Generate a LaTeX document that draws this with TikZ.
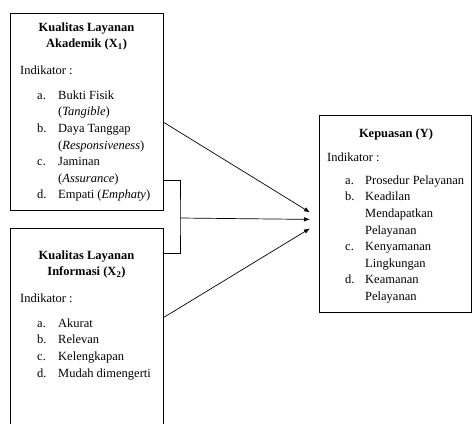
\documentclass[tikz,border=0pt]{standalone}
\usepackage{fontspec}
\setmainfont{Liberation Serif}
\usepackage{tikz}
\usetikzlibrary{arrows.meta,positioning,calc}
\newcommand{\itemfont}{\fontsize{12.5}{16.6}\selectfont}

\begin{document}
\begin{tikzpicture}[
  x=1pt, y=-1pt,
  box/.style={draw, line width=0.8pt, anchor=north west, inner sep=0pt},
  txt/.style={inner sep=0pt, anchor=base west, font=\itemfont},
  head/.style={inner sep=0pt, anchor=base, font=\itemfont\bfseries},
  arrow/.style={-{Latex[length=6pt,width=4.5pt]}, line width=0.7pt},
  link/.style={line width=0.8pt}
]
\useasboundingbox (0,0) rectangle (473,423);
\node[box, minimum width=153pt, minimum height=197pt] (X1) at (10,13) {};
\node[box, minimum width=153pt, minimum height=202pt] (X2) at (10,228) {};
\node[box, minimum width=152pt, minimum height=197pt] (Y) at (319,115) {};

% Kualitas Layanan Akademik
\node[head] (X1t) at (86.5,31.2) {\begin{tabular}[t]{@{}c@{}}Kualitas Layanan\\Akademik (X\textsubscript{1})\end{tabular}};
\node[txt] (X1i) at (20,74.2) {Indikator :};
\node[txt] (X1l) at (37,99.2) {\begin{tabular}[t]{@{}p{21pt}@{}l@{}}
  a. & Bukti Fisik\\ & (\textit{Tangible})\\
  b. & Daya Tanggap\\ & (\textit{Responsiveness})\\
  c. & Jaminan\\ & (\textit{Assurance})\\
  d. & Empati (\textit{Emphaty})
\end{tabular}};

% Kualitas Layanan Informasi
\node[head] (X2t) at (86.5,259.2) {\begin{tabular}[t]{@{}c@{}}Kualitas Layanan\\Informasi (X\textsubscript{2})\end{tabular}};
\node[txt] (X2i) at (20,302.2) {Indikator :};
\node[txt] (X2l) at (37,327.2) {\begin{tabular}[t]{@{}p{21pt}@{}l@{}}
  a. & Akurat\\
  b. & Relevan\\
  c. & Kelengkapan\\
  d. & Mudah dimengerti
\end{tabular}};

% Kepuasan
\node[head] (Yt) at (396,137.2) {Kepuasan (Y)};
\node[txt] (Yi) at (327,161.2) {Indikator :};
\node[txt] (Yl) at (345,184.2) {\begin{tabular}[t]{@{}p{20pt}@{}l@{}}
  a. & Prosedur Pelayanan\\
  b. & Keadilan\\ & Mendapatkan\\ & Pelayanan\\
  c. & Kenyamanan\\ & Lingkungan\\
  d. & Keamanan\\ & Pelayanan
\end{tabular}};

% connectors
\coordinate (join) at (180,218);
\draw[link] ([yshift=-68.5pt]X1.east) -| (join) |- ([yshift=76pt]X2.east);
\draw[arrow] ([yshift=-10.5pt]X1.east) -- ([xshift=-9pt,yshift=1.5pt]Y.west);
\draw[arrow] (join) -- ([xshift=-9pt,yshift=-5.5pt]Y.west);
\draw[arrow] ([yshift=12pt]X2.east) -- ([xshift=-9pt,yshift=-14.5pt]Y.west);
\end{tikzpicture}
\end{document}
